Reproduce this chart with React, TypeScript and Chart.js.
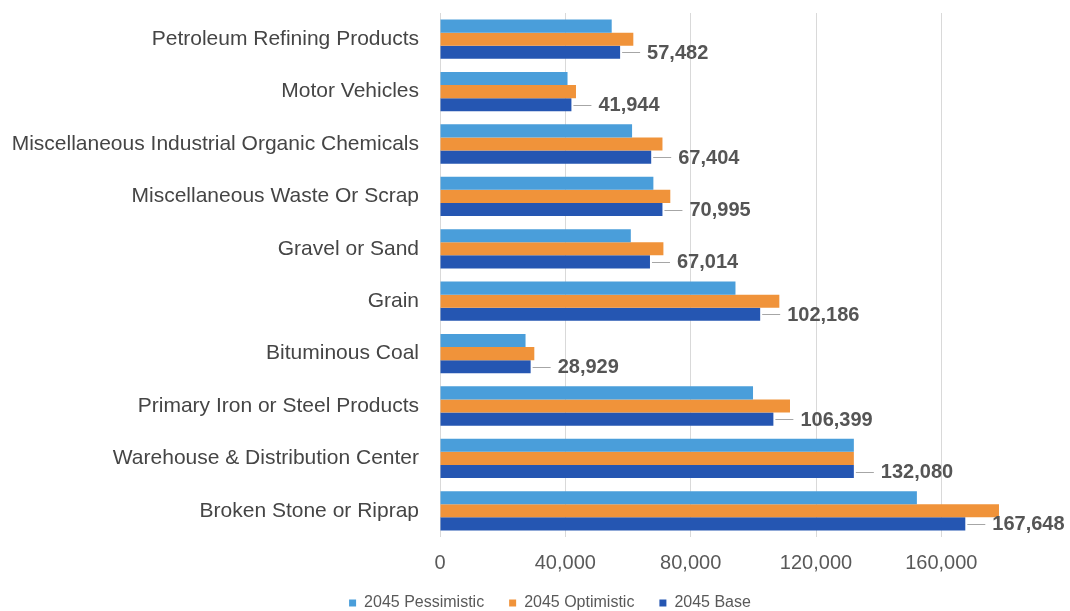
import React, { useEffect, useRef } from "react";
import { Chart, registerables } from "chart.js";

Chart.register(...registerables);

const categories = [
  "Petroleum Refining Products",
  "Motor Vehicles",
  "Miscellaneous Industrial Organic Chemicals",
  "Miscellaneous Waste Or Scrap",
  "Gravel or Sand",
  "Grain",
  "Bituminous Coal",
  "Primary Iron or Steel Products",
  "Warehouse & Distribution Center",
  "Broken Stone or Riprap",
];

const pessimistic = [54800, 40700, 61300, 68100, 60900, 94300, 27300, 99900, 132080, 152200];
const optimistic = [61700, 43400, 71000, 73500, 71300, 108300, 30100, 111700, 132080, 178400];
const base = [57482, 41944, 67404, 70995, 67014, 102186, 28929, 106399, 132080, 167648];

const xTicks = [0, 40000, 80000, 120000, 160000];

const FONT = "'Liberation Sans', Arial, sans-serif";

const valueLabels = {
  id: "valueLabels",
  afterDatasetsDraw(chart: any) {
    const meta = chart.getDatasetMeta(2);
    const ctx = chart.ctx;
    ctx.save();
    meta.data.forEach((bar: any, i: number) => {
      const x = bar.x;
      const y = Math.round(bar.y) + 0.5;
      ctx.strokeStyle = "#a6a6a6";
      ctx.lineWidth = 1;
      ctx.beginPath();
      ctx.moveTo(x + 2, y);
      ctx.lineTo(x + 20, y);
      ctx.stroke();
      ctx.fillStyle = "#555555";
      ctx.font = `bold 20px ${FONT}`;
      ctx.textAlign = "left";
      ctx.textBaseline = "middle";
      ctx.fillText(base[i].toLocaleString("en-US"), x + 27, bar.y + 1);
    });
    ctx.restore();
  },
};

// place the legend row where the reference has it
const legendPlacement = {
  id: "legendPlacement",
  afterLayout(chart: any) {
    const lg = chart.legend;
    if (!lg) return;
    const h = lg.height;
    lg.left += 48;
    lg.right += 48;
    lg.top = 570;
    lg.bottom = lg.top + h;
  },
};

export default function App() {
  const ref = useRef<HTMLCanvasElement>(null);
  useEffect(() => {
    if (!ref.current) return;
    const chart = new Chart(ref.current, {
      type: "bar",
      data: {
        labels: categories,
        datasets: [
          { label: "2045 Pessimistic", data: pessimistic, backgroundColor: "#4A9EDA" },
          { label: "2045 Optimistic", data: optimistic, backgroundColor: "#F0933A" },
          { label: "2045 Base", data: base, backgroundColor: "#2556B2" },
        ],
      },
      options: {
        indexAxis: "y",
        animation: false,
        responsive: true,
        maintainAspectRatio: false,
        layout: { padding: { top: 13, left: 0, right: 66, bottom: -17 } },
        datasets: { bar: { categoryPercentage: 0.75, barPercentage: 1.0 } },
        scales: {
          x: {
            min: 0,
            max: 180000,
            afterBuildTicks: (scale: any) => {
              scale.ticks = xTicks.map((v) => ({ value: v }));
            },
            afterFit: (scale: any) => {
              scale.height = 40;
            },
            grid: { color: "#d9d9d9", drawTicks: false },
            border: { display: false },
            ticks: {
              padding: 14,
              color: "#595959",
              font: { family: FONT, size: 20 },
              callback: (v: any) => Number(v).toLocaleString("en-US"),
            },
          },
          y: {
            afterFit: (scale: any) => {
              scale.width = 440;
              scale.paddingTop = 0;
              scale.paddingBottom = 0;
            },
            grid: { display: false, drawTicks: false },
            border: { display: false },
            ticks: {
              padding: 21,
              color: "#454545",
              font: { family: FONT, size: 21 },
            },
          },
        },
        plugins: {
          legend: {
            position: "bottom",
            labels: {
              boxWidth: 7,
              boxHeight: 7,
              padding: 25,
              color: "#595959",
              font: { family: FONT, size: 16 },
            },
          },
          tooltip: { enabled: false },
        },
      },
      plugins: [valueLabels, legendPlacement],
    });
    return () => chart.destroy();
  }, []);
  return (
    <div style={{ position: "fixed", left: 0, top: 0, width: 1070, height: 611, background: "#fff" }}>
      <canvas ref={ref} />
    </div>
  );
}
